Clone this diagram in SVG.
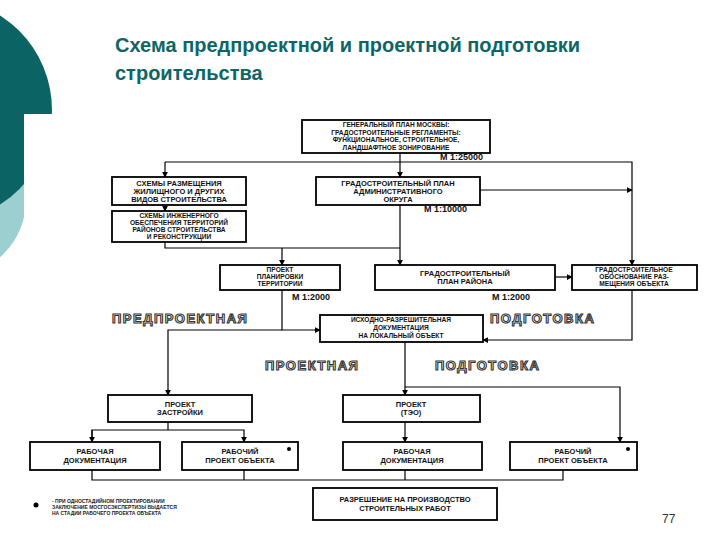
<svg xmlns="http://www.w3.org/2000/svg" width="720" height="540" viewBox="0 0 720 540">
<style>
.b{fill:#fff;stroke:#000;stroke-width:1.8}
.t{font-family:"Liberation Sans",Arial,sans-serif;font-size:7.5px;font-weight:bold;text-anchor:middle;fill:#111}
.s{font-size:6.6px}
.m{font-family:"Liberation Sans",Arial,sans-serif;font-size:9px;font-weight:bold;fill:#111}
.o{font-family:"Liberation Sans",Arial,sans-serif;font-size:13px;font-weight:900;fill:#fff;stroke:#333;stroke-width:1.1;letter-spacing:1.5px}
.c{fill:none;stroke:#000;stroke-width:1.2}
</style>
<defs><marker id="a" viewBox="0 0 8 8" refX="7" refY="4" markerWidth="5" markerHeight="5" orient="auto"><path d="M0,0L8,4L0,8z" fill="#000"/></marker></defs>
<rect width="720" height="540" fill="#fff"/>
<circle cx="-50" cy="200" r="76" fill="#9ccfcf"/>
<circle cx="-60" cy="110" r="112" fill="#0b6363"/>
<rect x="24" y="114" width="40" height="200" fill="#fff"/>
<text x="115" y="52" font-family="Liberation Sans,Arial,sans-serif" font-size="20" font-weight="bold" fill="#0d6666">Схема предпроектной и проектной подготовки</text>
<text x="115" y="80" font-family="Liberation Sans,Arial,sans-serif" font-size="20" font-weight="bold" fill="#0d6666">строительства</text>
<g id="connectors" class="c">
<path d="M400,153V177" marker-end="url(#a)"/>
<path d="M165,162H632V265" marker-end="url(#a)"/>
<path d="M165,162V177" marker-end="url(#a)"/>
<path d="M165,205V211" marker-end="url(#a)"/>
<path d="M480,190H632" marker-end="url(#a)"/>
<path d="M400,205V265" marker-end="url(#a)"/>
<path d="M165,242V248H400"/>
<path d="M282,248V265" marker-end="url(#a)"/>
<path d="M555,277H572" marker-end="url(#a)"/>
<path d="M282,290V330H320" marker-end="url(#a)"/>
<path d="M632,290V340H483" marker-end="url(#a)"/>
<path d="M282,330H168V395" marker-end="url(#a)"/>
<path d="M405,342V395" marker-end="url(#a)"/>
<path d="M405,387H620V442" marker-end="url(#a)"/>
<path d="M168,422V430"/>
<path d="M92,442V430H244V442" marker-end="url(#a)"/>
<path d="M92,430V442" marker-end="url(#a)"/>
<path d="M405,422V442" marker-end="url(#a)"/>
<path d="M92,470V480H563V470M244,470V480M405,470V480"/>
</g>
<g id="n1"><rect class="b" x="302" y="120" width="188" height="33"/><text class="t s" x="396" y="127">ГЕНЕРАЛЬНЫЙ ПЛАН МОСКВЫ:</text><text class="t s" x="396" y="134.5">ГРАДОСТРОИТЕЛЬНЫЕ РЕГЛАМЕНТЫ:</text><text class="t s" x="396" y="142">ФУНКЦИОНАЛЬНОЕ, СТРОИТЕЛЬНОЕ,</text><text class="t s" x="396" y="149.5">ЛАНДШАФТНОЕ ЗОНИРОВАНИЕ</text></g>
<text class="m" x="440" y="160">М 1:25000</text>
<g id="n2"><rect class="b" x="112" y="177" width="134" height="28"/><text class="t" x="179" y="186">СХЕМЫ РАЗМЕЩЕНИЯ</text><text class="t" x="179" y="194">ЖИЛИЩНОГО И ДРУГИХ</text><text class="t" x="179" y="202">ВИДОВ СТРОИТЕЛЬСТВА</text></g>
<g id="n3"><rect class="b" x="112" y="211" width="134" height="31"/><text class="t s" x="179" y="218">СХЕМЫ ИНЖЕНЕРНОГО</text><text class="t s" x="179" y="225">ОБЕСПЕЧЕНИЯ ТЕРРИТОРИЙ</text><text class="t s" x="179" y="232">РАЙОНОВ СТРОИТЕЛЬСТВА</text><text class="t s" x="179" y="239">И РЕКОНСТРУКЦИИ</text></g>
<g id="n4"><rect class="b" x="316" y="177" width="164" height="28"/><text class="t" x="398" y="186">ГРАДОСТРОИТЕЛЬНЫЙ ПЛАН</text><text class="t" x="398" y="194">АДМИНИСТРАТИВНОГО</text><text class="t" x="398" y="202">ОКРУГА</text></g>
<text class="m" x="424" y="212">М 1:10000</text>
<g id="n5"><rect class="b" x="220" y="265" width="120" height="25"/><text class="t s" x="280" y="272">ПРОЕКТ</text><text class="t s" x="280" y="279">ПЛАНИРОВКИ</text><text class="t s" x="280" y="286">ТЕРРИТОРИИ</text></g>
<text class="m" x="292" y="300">М 1:2000</text>
<g id="n6"><rect class="b" x="375" y="265" width="180" height="25"/><text class="t" x="465" y="276">ГРАДОСТРОИТЕЛЬНЫЙ</text><text class="t" x="465" y="284">ПЛАН РАЙОНА</text></g>
<text class="m" x="492" y="300">М 1:2000</text>
<g id="n7"><rect class="b" x="572" y="265" width="125" height="25"/><text class="t s" x="634" y="272">ГРАДОСТРОИТЕЛЬНОЕ</text><text class="t s" x="634" y="279">ОБОСНОВАНИЕ РАЗ-</text><text class="t s" x="634" y="286">МЕЩЕНИЯ ОБЪЕКТА</text></g>
<text class="o" x="112" y="323">ПРЕДПРОЕКТНАЯ</text>
<text class="o" x="490" y="323">ПОДГОТОВКА</text>
<g id="n8"><rect class="b" x="320" y="315" width="163" height="27"/><text class="t s" x="401" y="322">ИСХОДНО-РАЗРЕШИТЕЛЬНАЯ</text><text class="t s" x="401" y="330">ДОКУМЕНТАЦИЯ</text><text class="t s" x="401" y="338">НА ЛОКАЛЬНЫЙ ОБЪЕКТ</text></g>
<text class="o" x="265" y="370">ПРОЕКТНАЯ</text>
<text class="o" x="435" y="370">ПОДГОТОВКА</text>
<g id="n9"><rect class="b" x="108" y="395" width="144" height="27"/><text class="t" x="180" y="407">ПРОЕКТ</text><text class="t" x="180" y="415">ЗАСТРОЙКИ</text></g>
<g id="n10"><rect class="b" x="343" y="395" width="137" height="27"/><text class="t" x="411" y="407">ПРОЕКТ</text><text class="t" x="411" y="415">(ТЭО)</text></g>
<g id="n11"><rect class="b" x="30" y="442" width="130" height="28"/><text class="t" x="95" y="454">РАБОЧАЯ</text><text class="t" x="95" y="463">ДОКУМЕНТАЦИЯ</text></g>
<g id="n12"><rect class="b" x="182" y="442" width="116" height="28"/><text class="t" x="240" y="454">РАБОЧИЙ</text><text class="t" x="240" y="463">ПРОЕКТ ОБЪЕКТА</text><circle cx="289" cy="449" r="2"/></g>
<g id="n13"><rect class="b" x="343" y="442" width="139" height="28"/><text class="t" x="412" y="454">РАБОЧАЯ</text><text class="t" x="412" y="463">ДОКУМЕНТАЦИЯ</text></g>
<g id="n14"><rect class="b" x="510" y="442" width="127" height="28"/><text class="t" x="573" y="454">РАБОЧИЙ</text><text class="t" x="573" y="463">ПРОЕКТ ОБЪЕКТА</text><circle cx="628" cy="449" r="2"/></g>
<g id="n15"><rect class="b" x="313" y="488" width="184" height="32"/><text class="t" x="405" y="502">РАЗРЕШЕНИЕ НА ПРОИЗВОДСТВО</text><text class="t" x="405" y="511">СТРОИТЕЛЬНЫХ РАБОТ</text></g>
<circle cx="36" cy="505" r="2.5"/>
<g font-family="Liberation Sans,Arial,sans-serif" font-size="5px" font-weight="bold" fill="#222"><text x="52" y="503">- ПРИ ОДНОСТАДИЙНОМ ПРОЕКТИРОВАНИИ</text><text x="52" y="509">ЗАКЛЮЧЕНИЕ МОСГОСЭКСПЕРТИЗЫ ВЫДАЕТСЯ</text><text x="52" y="515">НА СТАДИИ РАБОЧЕГО ПРОЕКТА ОБЪЕКТА</text></g>
<text x="662" y="523" font-family="Liberation Sans,Arial,sans-serif" font-size="12" fill="#333">77</text>
</svg>
